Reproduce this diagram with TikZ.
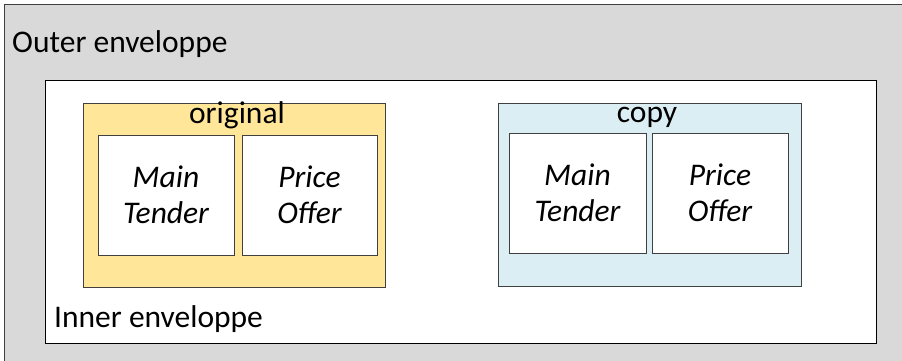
\documentclass[tikz,border=0pt]{standalone}
\usepackage{fontspec}
\setmainfont{Carlito}
\usepackage{tikz}
\usetikzlibrary{positioning}

\definecolor{envgray}{HTML}{D9D9D9}
\definecolor{origgold}{HTML}{FFE699}
\definecolor{copyblue}{HTML}{DAEEF3}
\definecolor{edgegray}{HTML}{404040}

\tikzset{
    part/.style={draw=edgegray, fill=white, minimum height=120pt, inner sep=0pt, align=center, font=\fontsize{31.5}{36}\selectfont\itshape},
    title/.style={inner sep=0pt, anchor=base, font=\fontsize{31.5}{36}\selectfont}
}

\begin{document}
\begin{tikzpicture}[x=1pt, y=-1pt]
    \useasboundingbox (0,0) rectangle (902,360);

    \coordinate (O1) at (4.5, 4.5);
    \coordinate (O2) at (910, 370);
    \coordinate (I1) at (45, 80);
    \coordinate (I2) at (876, 343);
    \coordinate (A1) at (83, 103);
    \coordinate (A2) at (385, 287);
    \coordinate (C1) at (498, 103);
    \coordinate (C2) at (801, 286);

    \draw[edgegray, fill=envgray] (O1) rectangle (O2);
    \draw[black, fill=white] (I1) rectangle (I2);
    \draw[edgegray, fill=origgold] (A1) rectangle (A2);
    \draw[edgegray, fill=copyblue] (C1) rectangle (C2);

    \node[part, minimum width=136pt] (amain) at (166, 195) {Main\\Tender};
    \node[part, minimum width=135pt] (aprice) at (309.5, 195) {Price\\Offer};
    \node[part, minimum width=137pt] (cmain) at (577.5, 193) {Main\\Tender};
    \node[part, minimum width=136pt] (cprice) at (720, 193) {Price\\Offer};

    \node[title] (atitle) at (237, 123.5) {original};
    \node[title] (ctitle) at (647, 122) {copy};
    \node[title, anchor=base west] (outer) at (12, 52) {Outer enveloppe};
    \node[title, anchor=base west] (inner) at (54, 327) {Inner enveloppe};
\end{tikzpicture}
\end{document}
